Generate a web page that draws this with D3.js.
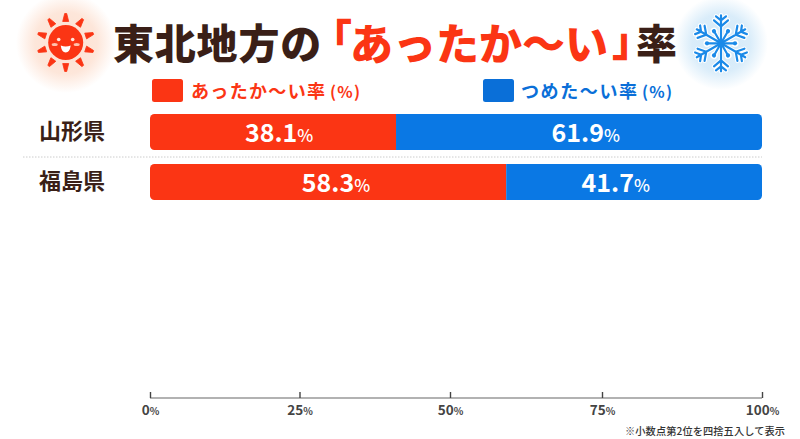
<!DOCTYPE html>
<html><head><meta charset="utf-8">
<script src="https://cdn.jsdelivr.net/npm/d3@7"></script>
<style>
html,body{margin:0;padding:0;background:#fff;overflow:hidden}
text{font-family:"Noto Sans CJK JP","Noto Sans",sans-serif}
</style></head><body>
<svg id="c" width="800" height="439"></svg>
<script>
const prefectures = ["山形県","福島県"];
const warmLabels = [38.1,58.3];
const coldLabels = [61.9,41.7];
const warmBarEnds = [40.2,58.2];
const ticks = [0,25,50,75,100];
const titleBlack = "東北地方の";
const titleRed = "あったか〜い";
const titleEnd = "率";
const legendWarm = "あったか〜い率";
const legendCold = "つめた〜い率";
const legendUnit = "(%)";
const note = "※小数点第2位を四捨五入して表示";
const RED="#fb3514", BLUE="#0a78e4", INK="#3a1f17", AXIS="#666";

const svg=d3.select("#c");
const defs=svg.append("defs");
function glow(id,c){
  const g=defs.append("radialGradient").attr("id",id);
  g.append("stop").attr("offset","0%").attr("stop-color",c).attr("stop-opacity",.8);
  g.append("stop").attr("offset","62%").attr("stop-color",c).attr("stop-opacity",.65);
  g.append("stop").attr("offset","100%").attr("stop-color",c).attr("stop-opacity",0);
}
glow("gw","#fcd9c6");glow("gc","#c6e3f7");

const x=d3.scaleLinear().domain([0,100]).range([150,762]);
const y=d3.scaleBand().domain(prefectures).range([114,200]).paddingInner(0.28);
// the reference's ticks are not evenly spaced
const axisX=d3.scaleLinear().domain(ticks).range([150,299.5,450,602,762]);
// label centres in the reference, on the bar scale
const warmCentres=[21.1,30.4], coldCentres=[71.2,76.1];

// title: one text element, positioned piece by piece
const tt=svg.append("text").attr("font-weight",900).attr("font-size",41);
tt.append("tspan").attr("x",113).attr("y",59).attr("letter-spacing",0.8).attr("fill",INK).text(titleBlack);
tt.append("tspan").attr("x",311).attr("y",54).attr("fill",RED).text("「");
tt.append("tspan").attr("x",350).attr("y",60).attr("font-size",43).attr("fill",RED).text(titleRed);
tt.append("tspan").attr("x",612).attr("y",56).attr("fill",RED).text("」");
tt.append("tspan").attr("x",636).attr("y",59).attr("fill",INK).text(titleEnd);

// sun
svg.append("circle").attr("cx",66).attr("cy",43).attr("r",50).attr("fill","url(#gw)");
const sun=svg.append("g").attr("transform","translate(65.7,42.5)");
d3.range(10).forEach(i=>{
  sun.append("path").attr("d","M-3,-21 L3,-21 L1,-29 L-1,-29 Z").attr("fill",RED).attr("stroke",RED).attr("stroke-width",.8).attr("stroke-linejoin","round")
   .attr("transform",`rotate(${i*36})`);
});
sun.append("circle").attr("r",17.5).attr("fill",RED);
[[-7,-3],[7,-3]].forEach(([a,b])=>sun.append("circle").attr("cx",a).attr("cy",b).attr("r",1.8).attr("fill","#ffe6dc"));
[[-11,2],[11,2]].forEach(([a,b])=>sun.append("ellipse").attr("cx",a).attr("cy",b).attr("rx",3).attr("ry",1.5).attr("fill","#ffc2ad"));
sun.append("path").attr("d","M-5,3 Q0,5 5,3 Q4,10 0,10 Q-4,10 -5,3 Z").attr("fill","#fff");

// snow
svg.append("circle").attr("cx",721).attr("cy",43).attr("r",47).attr("fill","url(#gc)");
const snowPath=(g,w,col,dot)=>{
  const s=g.append("g").attr("stroke",col).attr("stroke-width",w).attr("fill","none").attr("stroke-linecap","round").attr("stroke-linejoin","round");
  d3.range(6).forEach(i=>{
    const a=s.append("g").attr("transform",`rotate(${i*60})`);
    a.append("path").attr("d","M0,0 L0,-28 M-7,-23 L0,-17 L7,-23 M-5,-27 L0,-23 L5,-27");
    const b=s.append("g").attr("transform",`rotate(${i*60+30})`);
    b.append("path").attr("d","M0,0 L0,-13");
    b.append("circle").attr("cy",-14).attr("r",dot).attr("fill",col).attr("stroke","none");
  });
};
const snow=svg.append("g").attr("transform","translate(721,43.3)");
snowPath(snow,4.4,"#ffffff",3.6);
snowPath(snow,2.2,"#1b8ae8",2.1);
snow.append("circle").attr("r",3.5).attr("fill","#1b8ae8");

// legend
const lg=svg.append("g").attr("font-weight",700);
function legend(lx,tx,len,label,col){
  lg.append("rect").attr("x",lx).attr("y",79).attr("width",31).attr("height",23).attr("rx",2.5).attr("fill",col);
  lg.append("text").attr("x",tx).attr("y",98).attr("font-size",18).attr("fill",col).attr("textLength",len).text(label);
  lg.append("text").attr("x",tx+len+5).attr("y",97.5).attr("font-size",16).attr("font-weight",700).attr("fill",col).attr("textLength",30).text(legendUnit);
}
legend(152,191,134,legendWarm,RED);
legend(483,521,116,legendCold,"#0a6fd8");

// row separator
svg.append("line").attr("x1",23).attr("x2",762).attr("y1",157).attr("y2",157).attr("stroke","#ccc").attr("stroke-dasharray","1.5 1.5");

// bars
prefectures.forEach((p,i)=>{
  const yy=y(p),h=y.bandwidth(),cid="r"+i;
  defs.append("clipPath").attr("id",cid).append("rect").attr("x",x(0)).attr("y",yy).attr("width",x(100)-x(0)).attr("height",h).attr("rx",4.5);
  const g=svg.append("g").attr("clip-path",`url(#${cid})`);
  g.append("rect").attr("x",x(0)).attr("y",yy).attr("width",x(warmBarEnds[i])-x(0)).attr("height",h).attr("fill",RED);
  g.append("rect").attr("x",x(warmBarEnds[i])).attr("y",yy).attr("width",x(100)-x(warmBarEnds[i])).attr("height",h).attr("fill",BLUE);
  svg.append("text").attr("x",105).attr("y",yy+h/2+6.5).attr("text-anchor","end").attr("font-size",22).attr("font-weight",700).attr("fill",INK).text(p);
  [[warmLabels[i],x(warmCentres[i])],[coldLabels[i],x(coldCentres[i])]].forEach(([v,cx])=>{
    const t=svg.append("text").attr("x",cx).attr("y",yy+h/2+9.5).attr("text-anchor","middle").attr("fill","#fff").attr("font-weight",700).attr("font-size",25);
    t.append("tspan").text(v.toFixed(1));
    t.append("tspan").attr("font-size",17).attr("font-weight",500).text("%");
  });
});

// axis
const ax=svg.append("g").attr("transform","translate(0,398)").call(
  d3.axisBottom(axisX).tickValues(ticks).tickSize(0).tickPadding(7));
ax.select(".domain").attr("stroke",AXIS).attr("stroke-width",1.2).attr("d","M150,0H762");
ax.selectAll(".tick line").attr("y1",-6).attr("y2",0).attr("stroke","#444").attr("stroke-width",1.4);
ax.selectAll(".tick text").attr("font-size",13.5).attr("font-weight",700).attr("fill","#444").attr("y",7)
  .attr("font-family",'"Noto Sans CJK JP",sans-serif')
  .each(function(d){d3.select(this).text(d).append("tspan").attr("font-size",10).text("%");});

svg.append("text").attr("x",625).attr("y",434.5).attr("font-size",10.2).attr("font-weight",500).attr("fill","#333").attr("textLength",160).text(note);
</script>
</body></html>
